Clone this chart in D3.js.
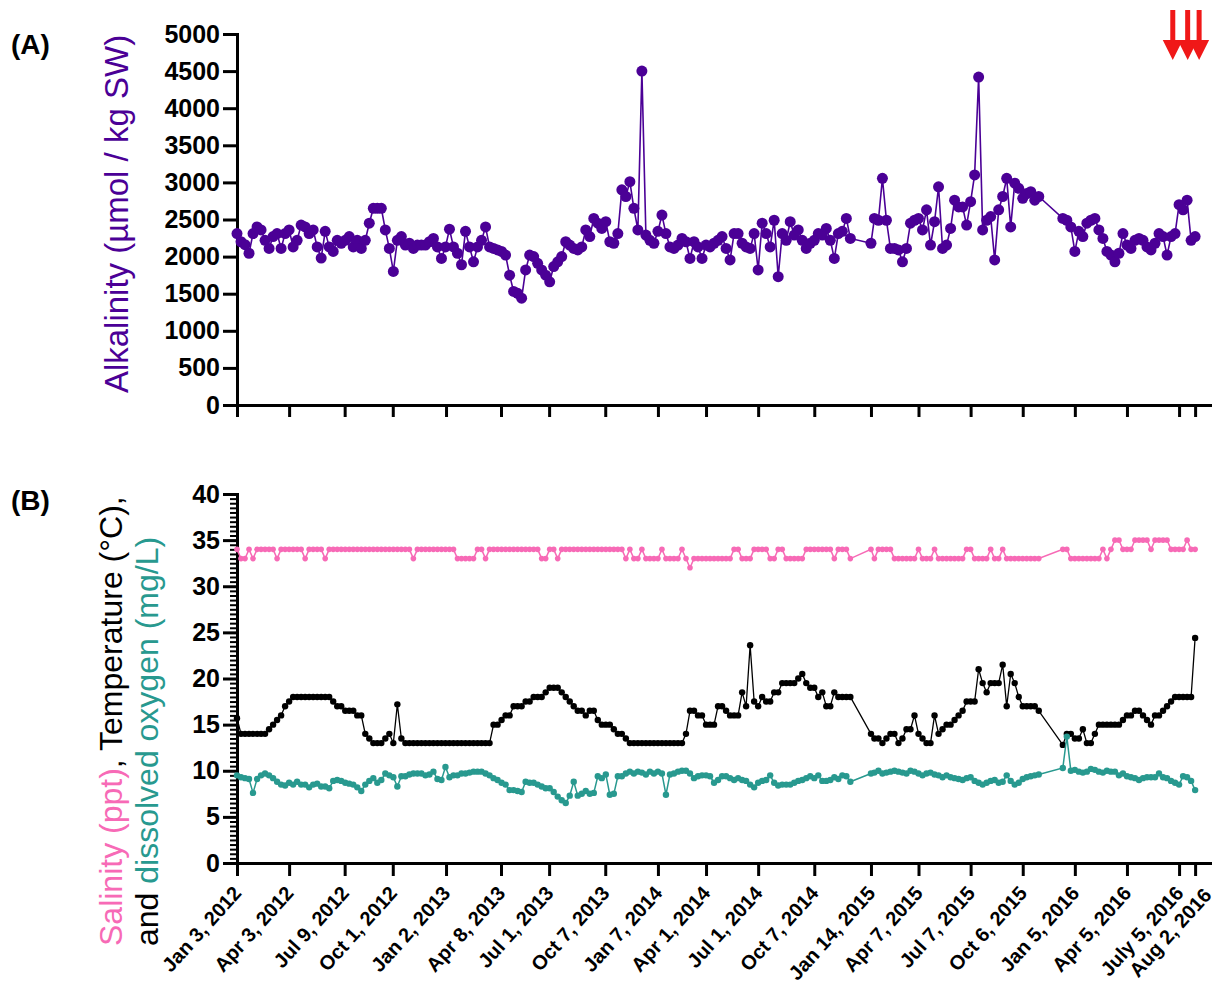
<!DOCTYPE html>
<html>
<head>
<meta charset="utf-8">
<script src="https://cdn.jsdelivr.net/npm/d3@7"></script>
<style>
body { margin: 0; background: #fff; }
svg text { font-family: "Liberation Sans", Arial, sans-serif; }
</style>
</head>
<body>
<svg width="1219" height="983"></svg>
<script>
// weekly sampling dates (gaps Dec 2014 - Jan 2015 and Nov - Dec 2015)
var sampleDates = [
  "2012-01-03","2012-01-10","2012-01-17","2012-01-24","2012-01-31","2012-02-07","2012-02-14","2012-02-21","2012-02-28",
  "2012-03-06","2012-03-13","2012-03-20","2012-03-27","2012-04-03","2012-04-10","2012-04-17","2012-04-24",
  "2012-05-01","2012-05-08","2012-05-15","2012-05-22","2012-05-29","2012-06-05","2012-06-12","2012-06-19","2012-06-26",
  "2012-07-03","2012-07-10","2012-07-17","2012-07-24","2012-07-31","2012-08-07","2012-08-14","2012-08-21","2012-08-28",
  "2012-09-04","2012-09-11","2012-09-18","2012-09-25","2012-10-02","2012-10-09","2012-10-16","2012-10-23","2012-10-30",
  "2012-11-06","2012-11-13","2012-11-20","2012-11-27","2012-12-04","2012-12-11","2012-12-18","2012-12-25",
  "2013-01-01","2013-01-08","2013-01-15","2013-01-22","2013-01-29","2013-02-05","2013-02-12","2013-02-19","2013-02-26",
  "2013-03-05","2013-03-12","2013-03-19","2013-03-26","2013-04-02","2013-04-09","2013-04-16","2013-04-23","2013-04-30",
  "2013-05-07","2013-05-14","2013-05-21","2013-05-28","2013-06-04","2013-06-11","2013-06-18","2013-06-25",
  "2013-07-02","2013-07-09","2013-07-16","2013-07-23","2013-07-30","2013-08-06","2013-08-13","2013-08-20","2013-08-27",
  "2013-09-03","2013-09-10","2013-09-17","2013-09-24","2013-10-01","2013-10-08","2013-10-15","2013-10-22","2013-10-29",
  "2013-11-05","2013-11-12","2013-11-19","2013-11-26","2013-12-03","2013-12-10","2013-12-17","2013-12-24","2013-12-31",
  "2014-01-07","2014-01-14","2014-01-21","2014-01-28","2014-02-04","2014-02-11","2014-02-18","2014-02-25",
  "2014-03-04","2014-03-11","2014-03-18","2014-03-25","2014-04-01","2014-04-08","2014-04-15","2014-04-22","2014-04-29",
  "2014-05-06","2014-05-13","2014-05-20","2014-05-27","2014-06-03","2014-06-10","2014-06-17","2014-06-24",
  "2014-07-01","2014-07-08","2014-07-15","2014-07-22","2014-07-29","2014-08-05","2014-08-12","2014-08-19","2014-08-26",
  "2014-09-02","2014-09-09","2014-09-16","2014-09-23","2014-09-30","2014-10-07","2014-10-14","2014-10-21","2014-10-28",
  "2014-11-04","2014-11-11","2014-11-18","2014-11-25","2014-12-02","2014-12-09",
  "2015-01-14","2015-01-20","2015-01-27","2015-02-03","2015-02-10","2015-02-17","2015-02-24",
  "2015-03-03","2015-03-10","2015-03-17","2015-03-24","2015-03-31","2015-04-07","2015-04-14","2015-04-21","2015-04-28",
  "2015-05-05","2015-05-12","2015-05-19","2015-05-26","2015-06-02","2015-06-09","2015-06-16","2015-06-23","2015-06-30",
  "2015-07-07","2015-07-14","2015-07-21","2015-07-28","2015-08-04","2015-08-11","2015-08-18","2015-08-25",
  "2015-09-01","2015-09-08","2015-09-15","2015-09-22","2015-09-29","2015-10-06","2015-10-13","2015-10-20","2015-10-27",
  "2015-11-03","2015-12-15","2015-12-22","2015-12-29",
  "2016-01-05","2016-01-12","2016-01-19","2016-01-26","2016-02-02","2016-02-09","2016-02-16","2016-02-23",
  "2016-03-01","2016-03-08","2016-03-15","2016-03-22","2016-03-29","2016-04-05","2016-04-12","2016-04-19","2016-04-26",
  "2016-05-03","2016-05-10","2016-05-17","2016-05-24","2016-05-31","2016-06-07","2016-06-14","2016-06-21","2016-06-28",
  "2016-07-05","2016-07-12","2016-07-19","2016-07-26","2016-08-02"
];

// (A) alkalinity, umol / kg SW
var alkalinity = [
  2310,2200,2160,2045,2310,2400,2360,2220,2110,2270,
  2310,2110,2310,2360,2130,2220,2425,2400,2310,2360,
  2130,1980,2340,2130,2070,2220,2180,2220,2270,2130,
  2220,2110,2220,2450,2650,2650,2650,2360,2110,1800,
  2220,2270,2155,2180,2110,2155,2155,2155,2200,2245,
  2130,1975,2130,2370,2130,2045,1890,2340,2130,1930,
  2130,2220,2400,2130,2110,2090,2070,2020,1750,1530,
  1505,1440,1820,2020,2000,1910,1820,1750,1660,1865,
  1930,2000,2200,2155,2110,2090,2130,2360,2270,2515,
  2450,2380,2470,2200,2180,2310,2900,2810,3010,2650,
  2360,4500,2290,2220,2180,2340,2560,2310,2130,2110,
  2155,2245,2200,1975,2200,2130,1975,2155,2130,2180,
  2220,2270,2110,1955,2310,2310,2180,2130,2110,2310,
  1820,2450,2310,2130,2490,1730,2310,2220,2470,2290,
  2360,2220,2110,2180,2220,2310,2290,2380,2220,1975,
  2310,2340,2515,2245,2180,2515,2490,3055,2490,2110,
  2110,2090,1930,2110,2450,2490,2515,2360,2630,2155,
  2470,2940,2110,2155,2380,2760,2670,2670,2425,2740,
  3100,4420,2360,2490,2540,1955,2630,2810,3055,2400,
  2990,2920,2785,2850,2875,2760,2810,2515,2490,2400,
  2070,2340,2270,2450,2490,2515,2360,2245,2070,2020,
  1930,2045,2310,2155,2110,2220,2245,2220,2130,2090,
  2180,2310,2270,2020,2270,2310,2700,2630,2760,2220,
  2270
];

// (B) salinity, ppt
var salinity = [
  34,33,33,34,33,34,34,34,34,34,
  33,34,34,34,34,34,34,33,34,34,
  34,34,33,34,34,34,34,34,34,34,
  34,34,34,34,34,34,34,34,34,34,
  34,34,34,34,33,34,34,34,34,34,
  34,34,34,34,34,33,33,33,33,33,
  34,34,33,34,34,34,34,34,34,34,
  34,34,34,34,34,34,33,33,34,34,
  33,34,34,34,34,34,34,34,34,34,
  34,34,34,34,34,34,34,33,34,33,
  33,34,33,33,33,33,34,33,33,33,
  33,34,33,32,33,33,33,33,33,33,
  33,33,33,33,34,34,33,33,33,34,
  34,34,34,33,33,34,34,33,33,33,
  33,33,34,34,34,34,34,34,34,33,
  34,34,34,33,34,33,34,34,34,34,
  33,33,33,33,33,33,34,33,33,33,
  34,33,33,33,33,33,33,33,34,34,
  33,33,33,33,34,33,33,34,33,33,
  33,33,33,33,33,33,33,34,34,33,
  33,33,33,33,33,33,33,34,33,34,
  35,35,34,34,34,35,35,35,35,34,
  35,35,35,35,34,34,34,34,35,34,
  34
];

// (B) temperature, deg C
var temperature = [
  15.7,14,14,14,14,14,14,14,14.5,15,
  15.5,16,17,17.5,18,18,18,18,18,18,
  18,18,18,18,17.5,17,17,16.5,16.5,16.5,
  16,16,14,13.5,13,13,13,13.5,14,13,
  17.2,13.5,13,13,13,13,13,13,13,13,
  13,13,13,13,13,13,13,13,13,13,
  13,13,13,13,15,15,15.5,16,16,17,
  17,17,17.5,17.5,18,18,18,18.5,19,19,
  19,18.5,18,17.5,17,16.5,16.5,16,16.5,16.5,
  15.5,15,15,15,14.5,14,14,13.5,13,13,
  13,13,13,13,13,13,13,13,13,13,
  13,13,14,16.5,16.5,16,16,15,15,15,
  17,17,16.5,16,16,16,18.5,17,23.6,17.5,
  17,18,17.5,17.5,18.5,18.5,19.5,19.5,19.5,19.5,
  20,20.5,19.5,19,19,18,18.5,17,17,18.5,
  18,18,18,18,14,13.5,13.5,13,13.5,14,
  14,13,13.5,14.5,14.5,16,14,13.5,13,13,
  16,14,14.5,15,15,15.5,16,16.5,17.5,17.5,
  17.5,21,19.5,18.5,19.5,19.5,19.5,21.5,17,20.5,
  19.5,18,17,17,17,17,16.5,12.8,14,14,
  13.5,13.5,14.5,13,13,14,15,15,15,15,
  15,15,15.5,16,16,16.5,16.5,16,15.5,15,
  16,16,16.5,17,17.5,18,18,18,18,18,
  24.4
];

// (B) dissolved oxygen, mg/L
var oxygen = [
  9.5,9.3,9.2,9.1,7.6,9.1,9.5,9.7,9.5,9.2,
  8.8,8.5,8.4,8.7,8.5,8.8,8.5,8.5,8.2,8.5,
  8.6,8.3,8.3,8.1,8.9,9.0,8.9,8.7,8.6,8.5,
  8.2,7.8,8.5,8.9,9.2,8.7,9.0,9.7,9.5,9.3,
  8.3,9.4,9.4,9.6,9.7,9.7,9.7,9.5,9.6,9.9,
  9.1,9.0,10.4,9.3,9.5,9.5,9.7,9.7,9.8,9.9,
  9.9,9.9,9.7,9.5,9.2,9.0,8.7,8.5,7.9,7.9,
  7.8,7.7,8.8,8.7,8.7,8.5,8.3,8.1,8.1,7.7,
  7.2,6.8,6.5,7.3,8.8,7.3,7.5,7.8,7.5,7.6,
  9.4,9.2,9.6,7.4,7.5,9.4,9.4,9.7,9.9,9.7,
  9.9,9.8,9.6,9.9,9.7,9.9,9.7,7.4,9.6,9.7,
  9.9,10.0,10.0,9.7,9.2,9.4,9.5,9.5,9.4,8.7,
  9.0,9.4,9.4,9.2,9.0,9.2,9.0,8.9,8.5,8.2,
  8.7,8.9,9.0,9.5,8.7,8.4,8.5,8.5,8.5,8.7,
  8.9,9.0,9.2,9.4,9.2,9.5,8.9,8.9,9.0,9.3,
  9.1,9.5,9.4,8.8,9.7,9.8,10.0,9.7,9.8,9.9,
  10.0,9.9,9.8,9.7,10.0,9.9,9.7,9.5,9.7,9.8,
  9.6,9.5,9.3,9.5,9.3,9.2,9.1,9.0,9.2,9.3,
  8.9,8.7,8.5,8.7,8.9,9.0,8.7,8.8,9.5,8.9,
  8.5,8.7,9.1,9.3,9.4,9.5,9.6,10.3,13.7,10.0,
  10.1,9.9,9.8,9.9,10.2,10.1,9.9,9.8,10.0,9.9,
  9.9,9.5,9.7,9.4,9.3,9.2,9.0,9.2,9.3,9.3,
  9.3,9.7,9.3,9.2,8.9,8.7,8.5,9.4,9.3,8.9,
  7.9
];

var tickDates = ["2012-01-03","2012-04-03","2012-07-09","2012-10-01","2013-01-02","2013-04-08","2013-07-01",
  "2013-10-07","2014-01-07","2014-04-01","2014-07-01","2014-10-07","2015-01-14","2015-04-07","2015-07-07",
  "2015-10-06","2016-01-05","2016-04-05","2016-07-05","2016-08-02"];
var tickLabels = ["Jan 3, 2012","Apr 3, 2012","Jul 9, 2012","Oct 1, 2012","Jan 2, 2013","Apr 8, 2013","Jul 1, 2013",
  "Oct 7, 2013","Jan 7, 2014","Apr 1, 2014","Jul 1, 2014","Oct 7, 2014","Jan 14, 2015","Apr 7, 2015","Jul 7, 2015",
  "Oct 6, 2015","Jan 5, 2016","Apr 5, 2016","July 5, 2016","Aug 2, 2016"];
var alkTicks = [0,500,1000,1500,2000,2500,3000,3500,4000,4500,5000];
var envTicks = [0,5,10,15,20,25,30,35,40];
var arrowDates = ["2016-06-24","2016-07-20","2016-08-09"];

var purple = "#4b0096", pink = "#f76ab6", teal = "#28998f";

var parse = d3.timeParse("%Y-%m-%d");
var rows = sampleDates.map(function(s, i) {
  return { date: parse(s), alk: alkalinity[i], sal: salinity[i], temp: temperature[i], dox: oxygen[i] };
});
var tickD = tickDates.map(parse);

var svg = d3.select("svg");

var x = d3.scaleTime().domain([parse("2012-01-03"), parse("2016-08-28")]).range([237, 1210]);
var yA = d3.scaleLinear().domain([0, 5000]).range([405, 34]);
var yB = d3.scaleLinear().domain([0, 40]).range([863, 494]);

function styleAxis(g) {
  g.selectAll(".domain").attr("stroke-width", 3).attr("stroke-linecap", "square");
  g.selectAll(".tick line").attr("stroke-width", 3);
  g.selectAll(".tick text").attr("font-family", "Liberation Sans, Arial, sans-serif")
    .attr("font-weight", "bold").attr("fill", "#000");
}

// ---------- panel A ----------
var gAx = svg.append("g").attr("transform", "translate(0,405)")
  .call(d3.axisBottom(x).tickValues(tickD).tickSize(12).tickSizeOuter(0).tickFormat(""));
styleAxis(gAx);

var gAy = svg.append("g").attr("transform", "translate(237,0)")
  .call(d3.axisLeft(yA).tickValues(alkTicks).tickSize(14).tickPadding(3).tickSizeOuter(0).tickFormat(d3.format("d")));
styleAxis(gAy);
gAy.selectAll(".tick text").attr("font-size", 25);

var lineA = d3.line().x(function(d) { return x(d.date); }).y(function(d) { return yA(d.alk); });
svg.append("path").datum(rows).attr("d", lineA)
  .attr("fill", "none").attr("stroke", purple).attr("stroke-width", 1.6);
svg.append("g").selectAll("circle").data(rows).enter().append("circle")
  .attr("cx", function(d) { return x(d.date); })
  .attr("cy", function(d) { return yA(d.alk); })
  .attr("r", 5.5).attr("fill", purple);

svg.append("text").attr("transform", "translate(128,214) rotate(-90)")
  .attr("text-anchor", "middle").attr("font-size", 33).attr("fill", purple)
  .text("Alkalinity (µmol / kg SW)");

svg.append("text").attr("x", 11).attr("y", 54).attr("font-size", 28).attr("font-weight", "bold").text("(A)");

// red arrows
var arrows = svg.append("g").selectAll("g").data(arrowDates.map(parse)).enter().append("g")
  .attr("transform", function(d) { return "translate(" + x(d) + ",0)"; });
arrows.append("rect").attr("x", -2.5).attr("y", 10).attr("width", 5).attr("height", 32).attr("fill", "#f01818");
arrows.append("path").attr("d", "M-10,40L10,40L0,60Z").attr("fill", "#f01818");

// ---------- panel B ----------
var gBx = svg.append("g").attr("transform", "translate(0,863)")
  .call(d3.axisBottom(x).tickValues(tickD).tickSize(13).tickSizeOuter(0)
    .tickFormat(function(d, i) { return tickLabels[i]; }));
styleAxis(gBx);
gBx.selectAll(".tick text")
  .attr("font-size", 20).attr("text-anchor", "end")
  .attr("x", 0).attr("y", 0).attr("dy", 0)
  .attr("transform", function(d, i) {
    return i === tickLabels.length - 1 ? "translate(17,33) rotate(-48)" : "translate(5,31) rotate(-48)";
  });

var minor = d3.range(0, 80).map(function(k) { return k * 0.5; }).filter(function(v) { return v % 5 !== 0; });
var gBm = svg.append("g").attr("transform", "translate(237,0)")
  .call(d3.axisLeft(yB).tickValues(minor).tickSize(7).tickSizeOuter(0).tickFormat(""));
gBm.selectAll(".tick line").attr("stroke-width", 2);
gBm.select(".domain").remove();

var gBy = svg.append("g").attr("transform", "translate(237,0)")
  .call(d3.axisLeft(yB).tickValues(envTicks).tickSize(14).tickPadding(3).tickSizeOuter(0));
styleAxis(gBy);
gBy.selectAll(".tick text").attr("font-size", 25);

var series = [
  { key: "sal", color: pink, r: 2.8, w: 1.5 },
  { key: "temp", color: "#000", r: 3.2, w: 1.3 },
  { key: "dox", color: teal, r: 3.2, w: 1.5 }
];
series.forEach(function(s) {
  var ln = d3.line().x(function(d) { return x(d.date); }).y(function(d) { return yB(d[s.key]); });
  svg.append("path").datum(rows).attr("d", ln)
    .attr("fill", "none").attr("stroke", s.color).attr("stroke-width", s.w);
  svg.append("g").selectAll("circle").data(rows).enter().append("circle")
    .attr("cx", function(d) { return x(d.date); })
    .attr("cy", function(d) { return yB(d[s.key]); })
    .attr("r", s.r).attr("fill", s.color);
});

var lab1 = svg.append("text").attr("transform", "translate(122,946) rotate(-90)").attr("font-size", 32);
lab1.append("tspan").attr("fill", pink).text("Salinity (ppt)");
lab1.append("tspan").attr("fill", "#000").text(", Temperature (°C),");
var lab2 = svg.append("text").attr("transform", "translate(158,946) rotate(-90)").attr("font-size", 32);
lab2.append("tspan").attr("fill", "#000").text("and ");
lab2.append("tspan").attr("fill", teal).text("dissolved oxygen (mg/L)");

svg.append("text").attr("x", 11).attr("y", 510).attr("font-size", 28).attr("font-weight", "bold").text("(B)");
</script>
</body>
</html>
